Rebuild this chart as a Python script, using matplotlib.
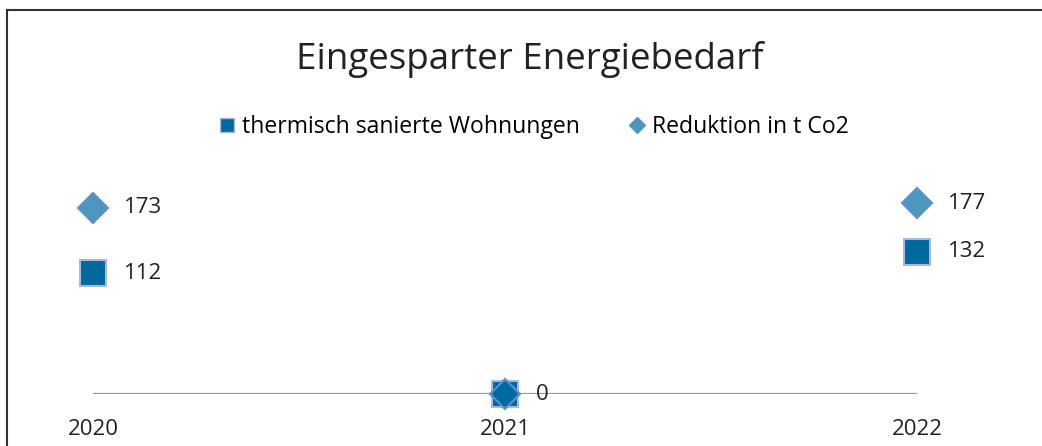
import matplotlib.pyplot as plt
from matplotlib.lines import Line2D

years = ['2020', '2021', '2022']
wohnungen = [112, 0, 132]
co2 = [173, 0, 177]

plt.rcParams['font.family'] = ['Open Sans', 'DejaVu Sans']

fig = plt.figure(figsize=(10.42, 4.46), dpi=100)
ax = fig.add_axes([93 / 1042, 52 / 446, 824 / 1042, 215.4 / 446])

x = range(len(years))
sq_face = '#006a9e'
sq_edge = '#a8b8de'
dm_face = (0.0, 0.42, 0.62, 0.7)
dm_edge = '#5a91cf'

ax.plot(x, wohnungen, 's', ms=19, mfc=sq_face, mec=sq_edge, mew=1.5, clip_on=False, zorder=3)
ax.plot(x, co2, 'D', ms=15.5, mfc=dm_face, mec=dm_edge, mew=1.5, clip_on=False, zorder=4)

for xi, v in zip(x, wohnungen):
    if v != 0:
        ax.annotate(str(v), (xi, v), xytext=(22, 0), textcoords='offset points',
                    va='center', ha='left', fontsize=16, color='#222222')
for xi, v in zip(x, co2):
    ax.annotate(str(v), (xi, v), xytext=(22, 0), textcoords='offset points',
                va='center', ha='left', fontsize=16, color='#222222')

ax.set_xlim(0, 2)
ax.set_ylim(0, 200)
ax.axhline(0, color='#999999', lw=1.6, zorder=1)
for s in ax.spines.values():
    s.set_visible(False)
ax.set_yticks([])
ax.set_xticks(list(x))
ax.set_xticklabels(years, fontsize=16, color='#222222')
ax.tick_params(axis='x', length=0, pad=18)
ax.patch.set_alpha(0)

fig.text(530 / 1042, 1 - 59 / 446, 'Eingesparter Energiebedarf', ha='center', va='center',
         fontsize=26.5, color='#222222')

handles = [
    Line2D([], [], ls='', marker='s', ms=10.5, mfc=sq_face, mec=sq_edge, mew=1),
    Line2D([], [], ls='', marker='D', ms=8.5, mfc=dm_face, mec=dm_edge, mew=1),
]
fig.legend(handles, ['thermisch sanierte Wohnungen', 'Reduktion in t Co2'], ncol=2,
           loc='center', bbox_to_anchor=(534 / 1042, 1 - 127 / 446), frameon=False,
           fontsize=16.6, handlelength=0.7, handletextpad=0.3, columnspacing=2.1)

# Rahmen oben und links
fig.add_artist(Line2D([7 / 1042, 1], [1 - 10 / 446, 1 - 10 / 446], color='#333333', lw=1.5))
fig.add_artist(Line2D([7 / 1042, 7 / 1042], [0, 1 - 10 / 446], color='#333333', lw=1.5))

fig.savefig('out.png', dpi=100)
